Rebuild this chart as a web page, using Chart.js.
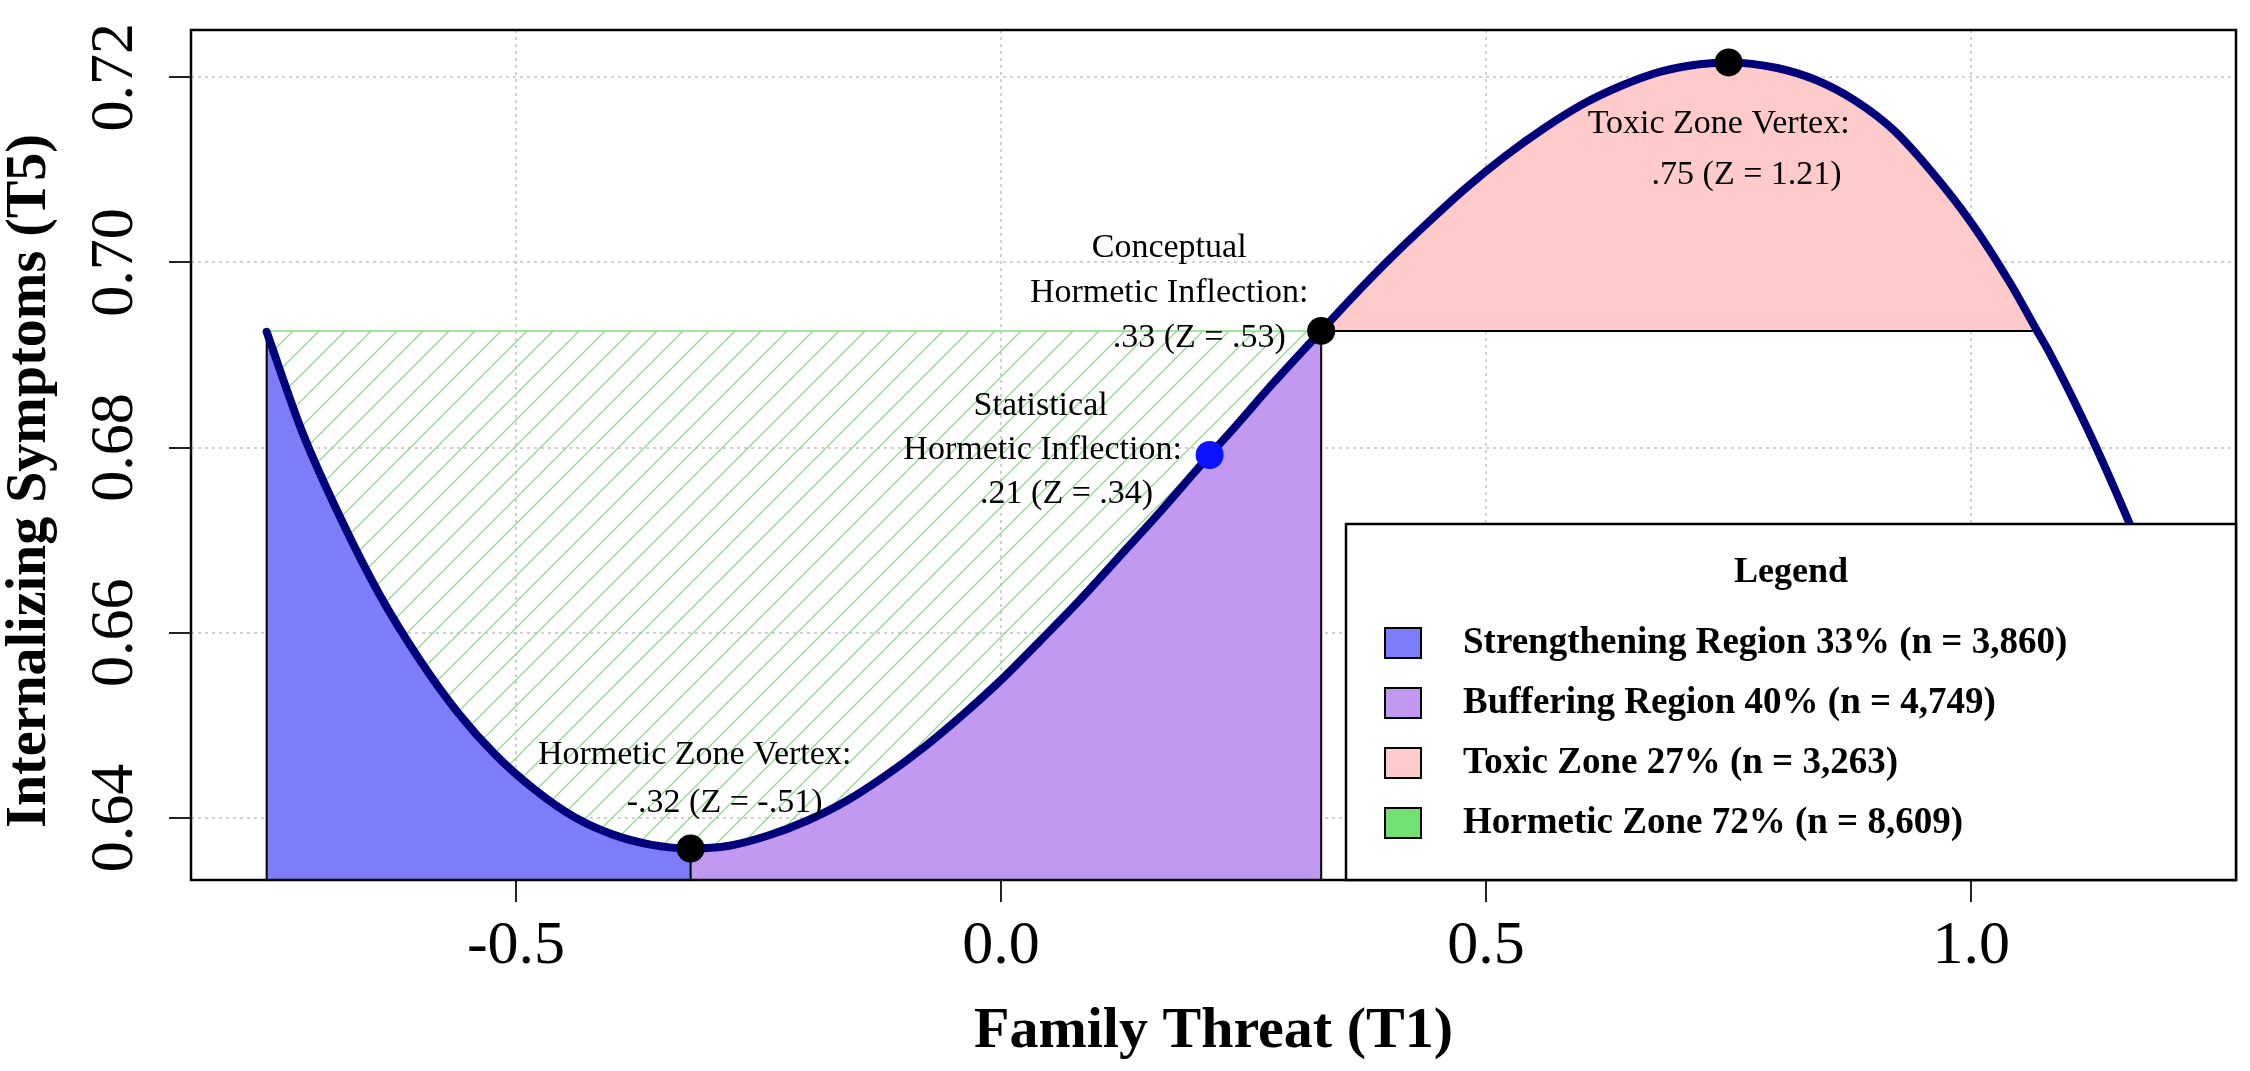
<!DOCTYPE html>
<html>
<head>
<meta charset="utf-8">
<title>Family Threat (T1) and Internalizing Symptoms (T5)</title>
<script src="https://cdn.jsdelivr.net/npm/chart.js@4.4.1/dist/chart.umd.min.js"></script>
<style>
  html, body { margin: 0; padding: 0; background: #fff; }
  #wrap { width: 2250px; height: 1071px; }
</style>
</head>
<body>
<div id="wrap"><canvas id="chart" width="2250" height="1071"></canvas></div>
<script>
// Curve (Family Threat on x, Internalizing Symptoms on y)
const curveX = [-0.757, -0.72, -0.68, -0.64, -0.60, -0.56, -0.52, -0.48, -0.44, -0.40, -0.36, -0.32,
  -0.28, -0.24, -0.20, -0.16, -0.12, -0.08, -0.04, 0.00, 0.04, 0.08, 0.12, 0.16, 0.20, 0.215,
  0.24, 0.28, 0.33, 0.36, 0.40, 0.44, 0.48, 0.52, 0.56, 0.60, 0.64, 0.68, 0.72, 0.75,
  0.80, 0.84, 0.88, 0.92, 0.96, 1.00, 1.04, 1.068, 1.08, 1.12, 1.16, 1.195];
const curveY = [0.6925, 0.6816, 0.6722, 0.6640, 0.6572, 0.6514, 0.6467, 0.6430, 0.6401, 0.6382, 0.6371, 0.6367,
  0.6370, 0.6381, 0.6397, 0.6418, 0.6445, 0.6476, 0.6511, 0.6549, 0.6591, 0.6634, 0.6680, 0.6726, 0.6774, 0.6792,
  0.6821, 0.6869, 0.6926, 0.6960, 0.7003, 0.7043, 0.7081, 0.7115, 0.7145, 0.7171, 0.7191, 0.7206, 0.7214, 0.7216,
  0.7210, 0.7197, 0.7175, 0.7143, 0.7097, 0.7043, 0.6978, 0.6926, 0.6904, 0.6820, 0.6726, 0.6636];

// Marked points: hormetic vertex, statistical inflection, conceptual inflection, toxic vertex
const markerX = [-0.32, 0.215, 0.33, 0.75];
const markerY = [0.6367, 0.6792, 0.6926, 0.7216];
const markerColors = ['#000000', '#0a14ff', '#000000', '#000000'];

// Zone limits
const zoneStartX = -0.757;
const vertexX = -0.32;
const conceptX = 0.33;
const conceptY = 0.6926;
const toxicEndX = 1.068;

// Axes
const xMin = -0.835, xMax = 1.273;
const yMin = 0.6333, yMax = 0.7251;
const xTicks = [-0.5, 0, 0.5, 1.0];
const xTickLabels = ['-0.5', '0.0', '0.5', '1.0'];
const yTicks = [0.64, 0.66, 0.68, 0.70, 0.72];
const yTickLabels = ['0.64', '0.66', '0.68', '0.70', '0.72'];
const xTitle = 'Family Threat (T1)';
const yTitle = 'Internalizing Symptoms (T5)';

// Legend
const regionNames = ['Strengthening Region 33% (n = 3,860)', 'Buffering Region 40% (n = 4,749)',
  'Toxic Zone 27% (n = 3,263)', 'Hormetic Zone 72% (n = 8,609)'];
const regionColors = ['#7d7dfa', '#c299f0', '#ffcaca', '#72e072'];

// Point notes
const noteHorm = ['Hormetic Zone Vertex:', '-.32 (Z = -.51)'];
const noteStat = ['Statistical', 'Hormetic Inflection:', '.21 (Z = .34)'];
const noteConcept = ['Conceptual', 'Hormetic Inflection:', '.33 (Z = .53)'];
const noteToxic = ['Toxic Zone Vertex:', '.75 (Z = 1.21)'];

const SERIF = "'Liberation Serif', 'DejaVu Serif', serif";

// where each note sits relative to its point, in pixels
const notes = [
  { at: 0, lines: noteHorm, dx: [4, 34], dy: [-93, -45] },
  { at: 1, lines: noteStat, dx: [-169, -167, -143], dy: [-49, -5, 39] },
  { at: 2, lines: noteConcept, dx: [-152, -152, -122], dy: [-83, -38, 7] },
  { at: 3, lines: noteToxic, dx: [-10, 18], dy: [62, 113] }
];

const curvePts = curveX.map((x, i) => ({ x: x, y: curveY[i] }));
function between(lo, hi) {
  return curvePts.filter(p => p.x >= lo && p.x <= hi);
}

// diagonal hatch for the hormetic zone
function hatchPattern() {
  const c = document.createElement('canvas');
  c.width = 26; c.height = 26;
  const g = c.getContext('2d');
  g.strokeStyle = '#8ed98e';
  g.lineWidth = 1.3;
  g.beginPath();
  g.moveTo(0, 26); g.lineTo(26, 0);
  g.moveTo(-13, 13); g.lineTo(13, -13);
  g.moveTo(13, 39); g.lineTo(39, 13);
  g.stroke();
  return g.createPattern(c, 'repeat');
}

function edge(points, color, width) {
  return {
    data: points, borderColor: color, borderWidth: width, pointRadius: 0,
    fill: false, order: 2
  };
}

const overlay = {
  id: 'overlay',
  afterDatasetsDraw(chart) {
    const { ctx, chartArea: a, scales: { x, y } } = chart;
    ctx.save();

    // plot box
    ctx.strokeStyle = '#000';
    ctx.lineWidth = 2.5;
    ctx.strokeRect(a.left, a.top, a.right - a.left, a.bottom - a.top);

    // y tick labels and title, parallel to the axis
    ctx.fillStyle = '#000';
    ctx.textAlign = 'center';
    ctx.textBaseline = 'middle';
    ctx.font = '62px ' + SERIF;
    yTicks.forEach((v, i) => {
      ctx.save();
      ctx.translate(a.left - 75, y.getPixelForValue(v));
      ctx.rotate(-Math.PI / 2);
      ctx.fillText(yTickLabels[i], 0, 0);
      ctx.restore();
    });
    ctx.save();
    ctx.translate(31, (a.top + a.bottom) / 2 + 26);
    ctx.rotate(-Math.PI / 2);
    ctx.font = 'bold 56px ' + SERIF;
    ctx.fillText(yTitle, 0, 0);
    ctx.restore();

    // notes next to the marked points
    ctx.font = '34px ' + SERIF;
    notes.forEach(n => {
      const px = x.getPixelForValue(markerX[n.at]);
      const py = y.getPixelForValue(markerY[n.at]);
      n.lines.forEach((t, j) => ctx.fillText(t, px + n.dx[j], py + n.dy[j]));
    });

    // legend box in the bottom right corner
    const lw = 890, lh = 356;
    const lx = a.right - lw, ly = a.bottom - lh;
    ctx.fillStyle = '#fff';
    ctx.fillRect(lx, ly, lw, lh);
    ctx.strokeStyle = '#000';
    ctx.lineWidth = 2.5;
    ctx.strokeRect(lx, ly, lw, lh);
    ctx.fillStyle = '#000';
    ctx.font = 'bold 36px ' + SERIF;
    ctx.fillText('Legend', lx + lw / 2, ly + 49);
    ctx.textAlign = 'left';
    ctx.font = 'bold 37px ' + SERIF;
    regionNames.forEach((name, i) => {
      const cy = ly + 119 + i * 60;
      ctx.fillStyle = regionColors[i];
      ctx.fillRect(lx + 39, cy - 15, 36, 30);
      ctx.lineWidth = 2;
      ctx.strokeRect(lx + 39, cy - 15, 36, 30);
      ctx.fillStyle = '#000';
      ctx.fillText(name, lx + 117, cy);
    });

    ctx.restore();
  }
};

new Chart(document.getElementById('chart'), {
  type: 'line',
  data: {
    datasets: [
      {
        label: 'Marked points', type: 'scatter',
        data: markerX.map((x, i) => ({ x: x, y: markerY[i] })),
        pointRadius: 14, pointBackgroundColor: markerColors, pointBorderWidth: 0,
        order: 0
      },
      {
        label: 'Curve', data: curvePts, borderColor: '#00007a', borderWidth: 8,
        borderCapStyle: 'round', borderJoinStyle: 'round',
        pointRadius: 0, cubicInterpolationMode: 'monotone', fill: false, order: 1
      },
      edge([{ x: zoneStartX, y: conceptY }, { x: conceptX, y: conceptY }], '#84dc84', 1.6),
      edge([{ x: zoneStartX, y: yMin }, { x: zoneStartX, y: curveY[0] }], '#000', 2),
      edge([{ x: vertexX, y: yMin }, { x: vertexX, y: markerY[0] }], '#000', 2),
      edge([{ x: conceptX, y: yMin }, { x: conceptX, y: conceptY }], '#000', 2),
      edge([{ x: conceptX, y: conceptY }, { x: toxicEndX, y: conceptY }], '#000', 2),
      {
        label: 'Hormetic Zone', data: between(zoneStartX, conceptX),
        borderColor: 'rgba(0,0,0,0)', pointRadius: 0, cubicInterpolationMode: 'monotone',
        fill: { value: conceptY }, backgroundColor: hatchPattern(), order: 3
      },
      {
        label: 'Toxic Zone', data: between(conceptX, toxicEndX),
        borderColor: 'rgba(0,0,0,0)', pointRadius: 0, cubicInterpolationMode: 'monotone',
        fill: { value: conceptY }, backgroundColor: regionColors[2], order: 4
      },
      {
        label: 'Buffering Region', data: between(vertexX, conceptX),
        borderColor: 'rgba(0,0,0,0)', pointRadius: 0, cubicInterpolationMode: 'monotone',
        fill: 'start', backgroundColor: regionColors[1], order: 4
      },
      {
        label: 'Strengthening Region', data: between(zoneStartX, vertexX),
        borderColor: 'rgba(0,0,0,0)', pointRadius: 0, cubicInterpolationMode: 'monotone',
        fill: 'start', backgroundColor: regionColors[0], order: 4
      }
    ]
  },
  options: {
    responsive: false,
    animation: false,
    devicePixelRatio: 1,
    events: [],
    layout: { padding: { top: 30, right: 9, left: 0, bottom: 0 } },
    plugins: { legend: { display: false }, tooltip: { enabled: false } },
    scales: {
      x: {
        type: 'linear', min: xMin, max: xMax,
        afterBuildTicks: s => { s.ticks = xTicks.map(v => ({ value: v })); },
        afterFit: s => { s.height = 191; },
        ticks: {
          callback: (v, i) => xTickLabels[i],
          font: { family: SERIF, size: 62 }, color: '#000',
          padding: 8, maxRotation: 0, autoSkip: false
        },
        grid: { color: '#d0d0d0', lineWidth: 2, tickLength: 22, tickColor: '#222', tickWidth: 2, tickBorderDash: [] },
        border: { display: false, dash: [3, 4] },
        title: {
          display: true, text: xTitle, color: '#000',
          font: { family: SERIF, size: 58, weight: 'bold' }, padding: { top: 0, bottom: 4 }
        }
      },
      y: {
        type: 'linear', min: yMin, max: yMax,
        afterBuildTicks: s => { s.ticks = yTicks.map(v => ({ value: v })); },
        afterFit: s => { s.width = 191; },
        ticks: { display: false },
        grid: { color: '#d0d0d0', lineWidth: 2, tickLength: 22, tickColor: '#222', tickWidth: 2, tickBorderDash: [] },
        border: { display: false, dash: [3, 4] },
        title: { display: false }
      }
    }
  },
  plugins: [overlay]
});
</script>
</body>
</html>
